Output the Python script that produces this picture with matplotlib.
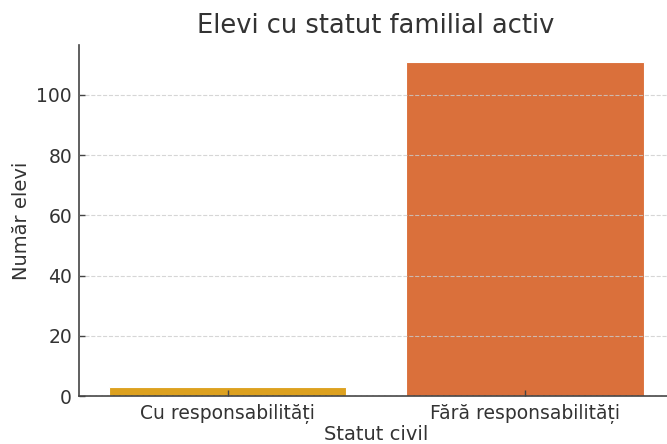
import numpy as np
import matplotlib
matplotlib.use("Agg")
import matplotlib.pyplot as plt

categories = ["Cu responsabilități", "Fără responsabilități"]
counts = [3, 111]
colors = ["#DDA11F", "#DA703B"]

txt = "#333333"
plt.rcParams["font.family"] = ["DejaVu Sans"]

fig = plt.figure(figsize=(6.67, 4.44), dpi=100)
ax = fig.add_axes([0.1184, 0.108, 0.891, 0.7906])

x = np.arange(len(categories))
ax.bar(x, counts, width=0.8, color=colors, edgecolor="white", linewidth=0.8, zorder=1)

ax.set_xlim(-0.5, 1.5)
ax.set_ylim(0, max(counts) * 1.05)
ax.set_xticks(x)
ax.set_xticklabels(categories)
ax.set_yticks([0, 20, 40, 60, 80, 100])

ax.grid(axis="y", color="#cccccc", linestyle="--", linewidth=0.8, alpha=0.8, zorder=2)
ax.set_axisbelow(False)

for s in ["top", "right"]:
    ax.spines[s].set_visible(False)
for s in ["left", "bottom"]:
    ax.spines[s].set_color("#444444")
    ax.spines[s].set_linewidth(1.2)

ax.tick_params(axis="both", direction="in", length=4, width=1, colors="#444444",
               labelcolor=txt, labelsize=13.5)
ax.tick_params(axis="x", pad=6)
ax.tick_params(axis="y", pad=5)

ax.set_title("Elevi cu statut familial activ", fontsize=18.5, color=txt, pad=8.6)
ax.set_xlabel("Statut civil", fontsize=14, color=txt, labelpad=0.5)
ax.set_ylabel("Număr elevi", fontsize=14, color=txt, labelpad=4)

fig.savefig("out.png", dpi=100)
